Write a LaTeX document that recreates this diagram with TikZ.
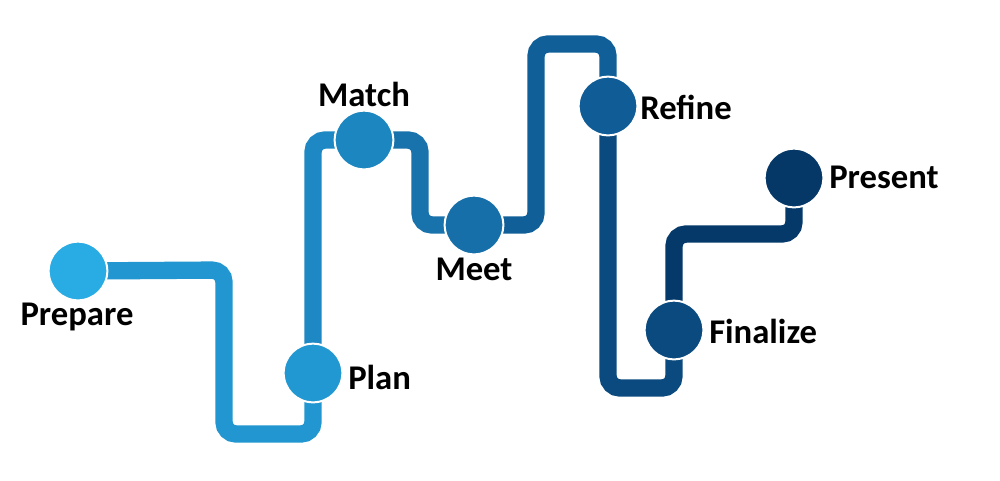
\documentclass[tikz,border=0pt]{standalone}
\usepackage{fontspec}
\setmainfont{Carlito}
\usetikzlibrary{backgrounds}
\definecolor{cA}{HTML}{29ABE3}
\definecolor{cB}{HTML}{2198D2}
\definecolor{cC}{HTML}{1B86C0}
\definecolor{cD}{HTML}{166FA8}
\definecolor{cE}{HTML}{0F5C96}
\definecolor{cF}{HTML}{0A4A7E}
\definecolor{cG}{HTML}{053767}
\definecolor{sA}{HTML}{2196D0}
\definecolor{sB}{HTML}{1D88C3}
\definecolor{sC}{HTML}{1872AB}
\definecolor{sD}{HTML}{115F98}
\definecolor{sE}{HTML}{0A4A7E}
\definecolor{sF}{HTML}{05396A}
\tikzset{
  stepdot/.style={circle, draw=white, line width=1.5pt, minimum size=44pt, inner sep=0pt},
  road/.style={line width=13pt, rounded corners=9pt},
  lbl/.style={font=\fontsize{26}{30}\selectfont\bfseries, text=black, inner sep=0pt}
}
\begin{document}
\begin{tikzpicture}[x=0.75pt,y=-0.75pt]
\useasboundingbox (0,0) rectangle (1000,480);
% step circles
\node[stepdot, fill=cA] (prepare) at (78,271) {};
\node[stepdot, fill=cB] (plan) at (313,373) {};
\node[stepdot, fill=cC] (match) at (364,140) {};
\node[stepdot, fill=cD] (meet) at (474,225) {};
\node[stepdot, fill=cE] (refine) at (608,106) {};
\node[stepdot, fill=cF] (finalize) at (674,330) {};
\node[stepdot, fill=cG] (present) at (794,178) {};
% road segments
\begin{pgfonlayer}{background}
\draw[road, sA] (prepare.center) -- (224,270) -- (224,434) -- (313,434) -- (plan.center);
\draw[road, sB] (plan.center) -- (313,140) -- (match.center);
\draw[road, sC] (match.center) -- (420,140) -- (420,225) -- (meet.center);
\draw[road, sD] (meet.center) -- (536,225) -- (536,44) -- (608,44) -- (refine.center);
\draw[road, sE] (refine.center) -- (608,388) -- (674,388) -- (finalize.center);
\draw[road, sF] (finalize.center) -- (674,234) -- (794,234) -- (present.center);
\end{pgfonlayer}
% labels
\node[lbl, anchor=base] (tprepare) at (77,325) {Prepare};
\node[lbl, anchor=base west] (tplan) at (348,389) {Plan};
\node[lbl, anchor=base] (tmatch) at (364,106) {Match};
\node[lbl, anchor=base] (tmeet) at (474,280) {Meet};
\node[lbl, anchor=base west] (trefine) at (640,119) {Refine};
\node[lbl, anchor=base west] (tfinalize) at (709,343) {Finalize};
\node[lbl, anchor=base west] (tpresent) at (829,188) {Present};
\end{tikzpicture}
\end{document}
